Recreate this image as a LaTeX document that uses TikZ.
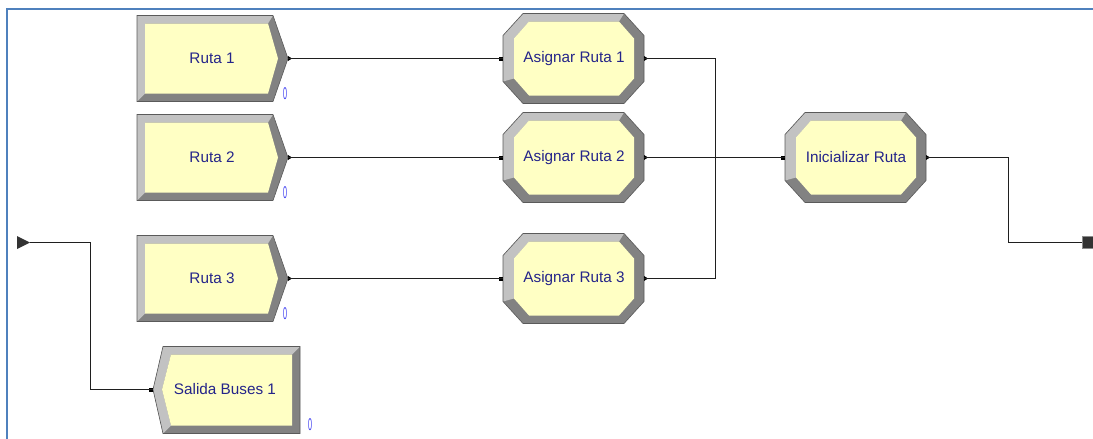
\documentclass[tikz,border=0pt]{standalone}
\usepackage{fontspec}
\setmainfont{Liberation Sans}
\definecolor{bevdark}{HTML}{828282}
\definecolor{bevlight}{HTML}{C2C2C2}
\definecolor{blkfill}{HTML}{FFFFC4}
\definecolor{blkline}{HTML}{5A5A5A}
\definecolor{lbltext}{HTML}{24248A}
\definecolor{cntblue}{HTML}{3C3CF0}
\definecolor{frameblue}{HTML}{4F81BD}
\tikzset{
  x=1pt, y=-1pt,
  lbl/.style={font=\fontsize{15.3}{18}\selectfont, text=lbltext, inner sep=0pt},
  cnt/.style={font=\fontsize{17}{19}\selectfont, text=cntblue, inner sep=0pt},
  conn/.style={draw=black!88, line width=1pt},
  port/.style={fill=black},
  createblk/.pic={
    \fill[bevdark] (0,-43) -- (136,-43) -- (151,0) -- (136,43) -- (0,43) -- cycle;
    \fill[bevlight] (0,43) -- (0,-43) -- (136,-43) -- (131,-35) -- (8,-35) -- (8,35) -- cycle;
    \fill[blkfill] (8,-35) -- (131,-35) -- (141,0) -- (131,35) -- (8,35) -- cycle;
    \draw[blkline, line width=0.6pt] (0,-43) -- (136,-43) -- (151,0) -- (136,43) -- (0,43) -- cycle;
    \node[lbl] (-txt) at (75,0) {#1};
    \node[cnt] (-cnt) at (148,35) {\scalebox{0.42}[1]{0}};
    \coordinate (-out) at (151,0);
    \fill[port] (151,-2.5) -- (155,0) -- (151,2.5) -- cycle;
  },
  assignblk/.pic={
    \fill[bevdark] (20,-45) -- (121,-45) -- (141,-23) -- (141,23) -- (121,45) -- (20,45) -- (0,23) -- (0,-23) -- cycle;
    \fill[bevlight] (0,23) -- (0,-23) -- (20,-45) -- (121,-45) -- (116,-37) -- (26,-37) -- (11,-20) -- (11,20) -- cycle;
    \fill[blkfill] (26,-37) -- (116,-37) -- (131,-20) -- (131,20) -- (116,37) -- (26,37) -- (11,20) -- (11,-20) -- cycle;
    \draw[blkline, line width=0.6pt] (20,-45) -- (121,-45) -- (141,-23) -- (141,23) -- (121,45) -- (20,45) -- (0,23) -- (0,-23) -- cycle;
    \node[lbl] (-txt) at (71,0) {#1};
    \coordinate (-in) at (0,0);
    \coordinate (-out) at (141,0);
    \fill[port] (-4,-2) rectangle (0,2);
    \fill[port] (141,-2.5) -- (145,0) -- (141,2.5) -- cycle;
  },
  disposeblk/.pic={
    \fill[bevdark] (0,0) -- (10,-43) -- (147,-43) -- (147,44) -- (10,44) -- cycle;
    \fill[bevlight] (0,0) -- (10,-43) -- (147,-43) -- (139,-35) -- (18,-35) -- (9,0) -- (18,36) -- (10,44) -- cycle;
    \fill[blkfill] (18,-35) -- (139,-35) -- (139,36) -- (18,36) -- (9,0) -- cycle;
    \draw[blkline, line width=0.6pt] (0,0) -- (10,-43) -- (147,-43) -- (147,44) -- (10,44) -- cycle;
    \node[lbl] (-txt) at (72,0) {#1};
    \node[cnt] (-cnt) at (157,35) {\scalebox{0.42}[1]{0}};
    \coordinate (-in) at (0,0);
    \fill[port] (-4,-2) rectangle (0,2);
  }
}
\begin{document}
\begin{tikzpicture}
\useasboundingbox (0,0) rectangle (1093,439);
% frame
\draw[frameblue, line width=2pt] (7,440) -- (7,9) -- (1094,9);
% blocks
\pic (r1) at (137,58.5) {createblk={Ruta 1}};
\pic (r2) at (137,157.5) {createblk={Ruta 2}};
\pic (r3) at (137,278.5) {createblk={Ruta 3}};
\pic (a1) at (503,58.5) {assignblk={Asignar Ruta 1}};
\pic (a2) at (503,157.5) {assignblk={Asignar Ruta 2}};
\pic (a3) at (503,278.5) {assignblk={Asignar Ruta 3}};
\pic (ini) at (785,157.5) {assignblk={Inicializar Ruta}};
\pic (sal) at (153,389.5) {disposeblk={Salida Buses 1}};
% entry and exit points
\coordinate (entry) at (30,242.5);
\coordinate (exit) at (1082,242.5);
\coordinate (J) at (715.5,157.5);
\coordinate (bend) at (1008.5,242.5);
\coordinate (drop) at (90.5,242.5);
\fill[black!80] (17,236) -- (entry) -- (17,249) -- cycle;
\filldraw[fill=black!80, draw=black!45, line width=0.6pt] (exit) ++(0,-6) rectangle ++(11,12);
% connectors
\draw[conn] (r1-out) -- (a1-in);
\draw[conn] (r2-out) -- (a2-in);
\draw[conn] (r3-out) -- (a3-in);
\draw[conn] (a1-out) -| (J);
\draw[conn] (a3-out) -| (J);
\draw[conn] (a2-out) -- (J) -- (ini-in);
\draw[conn] (ini-out) -| (bend) -- (exit);
\draw[conn] (entry) -- (drop) |- (sal-in);
\end{tikzpicture}
\end{document}
